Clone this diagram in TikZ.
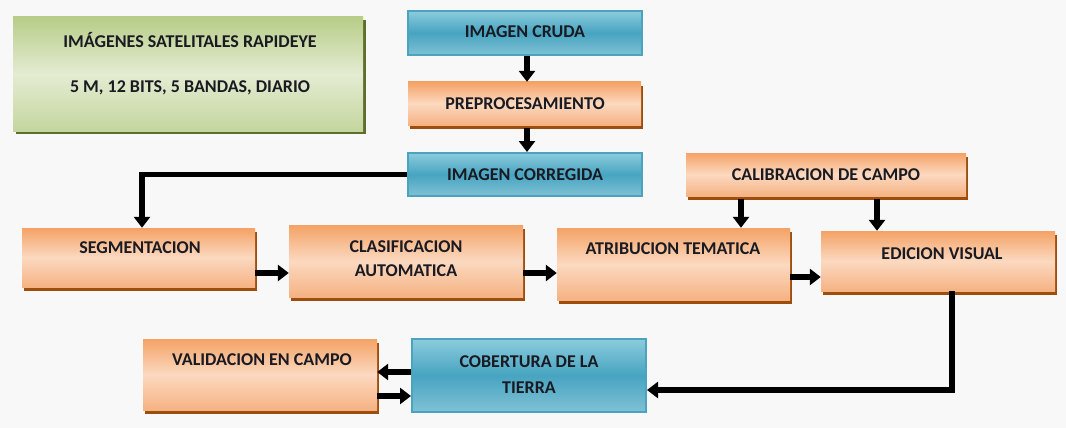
\documentclass[tikz,border=0pt]{standalone}
\usepackage{fontspec}
\setmainfont{Carlito}
\usetikzlibrary{arrows.meta,shadows,calc}
\definecolor{bgc}{HTML}{F8F8F8}
\definecolor{bluetop}{HTML}{8CCBDC}
\definecolor{bluemid}{HTML}{47A4C1}
\definecolor{bluebot}{HTML}{80C1D5}
\definecolor{blueedge}{HTML}{4BA3BF}
\definecolor{ordark}{HTML}{F4A265}
\definecolor{orlight}{HTML}{FBD9C0}
\definecolor{orbot}{HTML}{F6B283}
\definecolor{orshadow}{HTML}{9E4E0C}
\definecolor{grdark}{HTML}{B7CD88}
\definecolor{grlight}{HTML}{E4ECD2}
\definecolor{grbot}{HTML}{C4D69E}
\definecolor{grshadow}{HTML}{5E6E2B}
\definecolor{txt}{HTML}{1A1A22}
\tikzset{
  boxbase/.style={rectangle, inner sep=0pt},
  bluebox/.style={boxbase, draw=blueedge, line width=2pt, top color=bluetop, bottom color=bluebot, middle color=bluemid},
  orbox/.style={boxbase, top color=ordark, bottom color=orbot, middle color=orlight,
     drop shadow={shadow xshift=2pt, shadow yshift=-4pt, fill=orshadow, opacity=1}},
  grbox/.style={boxbase, top color=grdark, bottom color=grbot, middle color=grlight,
     drop shadow={shadow xshift=3pt, shadow yshift=-3pt, fill=grshadow, opacity=1}},
  lbl/.style={font=\bfseries\fontsize{18}{20}\selectfont, text=txt, inner sep=0pt, align=center},
  conn/.style={line width=5.5pt, -{Triangle[length=11pt,width=16pt]}}
}
\begin{document}
\begin{tikzpicture}[x=1pt,y=-1pt]
\fill[bgc] (0,0) rectangle (1066,428);
\useasboundingbox (0,0) rectangle (1066,428);

% boxes
\node[grbox, minimum width=350pt, minimum height=114pt] (sat) at (188,74) {};
\node[bluebox, minimum width=234pt, minimum height=44pt] (cruda) at (525,33) {};
\node[orbox, minimum width=233pt, minimum height=43pt] (prep) at (524.5,103.5) {};
\node[bluebox, minimum width=234pt, minimum height=43pt] (corr) at (525,174.5) {};
\node[orbox, minimum width=280pt, minimum height=43pt] (calib) at (826,174.5) {};
\node[orbox, minimum width=233pt, minimum height=59pt] (seg) at (138.5,257.5) {};
\node[orbox, minimum width=234pt, minimum height=72pt] (clas) at (406,261) {};
\node[orbox, minimum width=233pt, minimum height=72pt] (atri) at (673.5,264) {};
\node[orbox, minimum width=234pt, minimum height=60pt] (edic) at (938,261) {};
\node[orbox, minimum width=234pt, minimum height=71pt] (valid) at (260,374.5) {};
\node[bluebox, minimum width=234pt, minimum height=73pt] (cob) at (529,375.5) {};

% labels
\node[lbl] (t1) at (190,40) {IMÁGENES SATELITALES RAPIDEYE};
\node[lbl] (t2) at (190,88) {5 M, 12 BITS, 5 BANDAS, DIARIO};
\node[lbl] (t3) at (525,32) {IMAGEN CRUDA};
\node[lbl] (t4) at (525,104) {PREPROCESAMIENTO};
\node[lbl] (t5) at (525,175) {IMAGEN CORREGIDA};
\node[lbl] (t6) at (826,175) {CALIBRACION DE CAMPO};
\node[lbl] (t7) at (140,248) {SEGMENTACION};
\node[lbl] (t8) at (406,247) {CLASIFICACION};
\node[lbl] (t9) at (406,271) {AUTOMATICA};
\node[lbl] (t10) at (673,249) {ATRIBUCION TEMATICA};
\node[lbl] (t11) at (942,254) {EDICION VISUAL};
\node[lbl] (t12) at (262,360) {VALIDACION EN CAMPO};
\node[lbl] (t13) at (529,362) {COBERTURA DE LA};
\node[lbl] (t14) at (529,388) {TIERRA};

% helper coordinates
\coordinate (xa) at (527,0);
\coordinate (xs) at (142,0);
\coordinate (xc1) at (741,0);
\coordinate (xc2) at (877,0);
\coordinate (xe) at (952,0);
\coordinate (ybot) at (0,390);

% connectors
\draw[conn] (cruda.south -| xa) -- (prep.north -| xa);
\draw[conn] ([yshift=-3pt]prep.south -| xa) -- (corr.north -| xa);
\draw[conn] (corr.west) -| (seg.north -| xs);
\draw[conn] ([yshift=-15.5pt]seg.east) -- ([yshift=-15.5pt]seg.east -| clas.west);
\draw[conn] ([yshift=-12pt]clas.east) -- ([yshift=-12pt]clas.east -| atri.west);
\draw[conn] ([yshift=-13pt]atri.east) -- ([yshift=-13pt]atri.east -| edic.west);
\draw[conn] ([yshift=-3pt]calib.south -| xc1) -- (atri.north -| xc1);
\draw[conn] ([yshift=-3pt]calib.south -| xc2) -- (edic.north -| xc2);
\draw[conn] (edic.south -| xe) |- (cob.east |- ybot);
\draw[conn] ([yshift=3.5pt]cob.west) -- ([yshift=3.5pt]cob.west -| valid.east);
\draw[conn] ([yshift=-21.5pt]valid.east) -- ([yshift=-21.5pt]valid.east -| cob.west);
\end{tikzpicture}
\end{document}
